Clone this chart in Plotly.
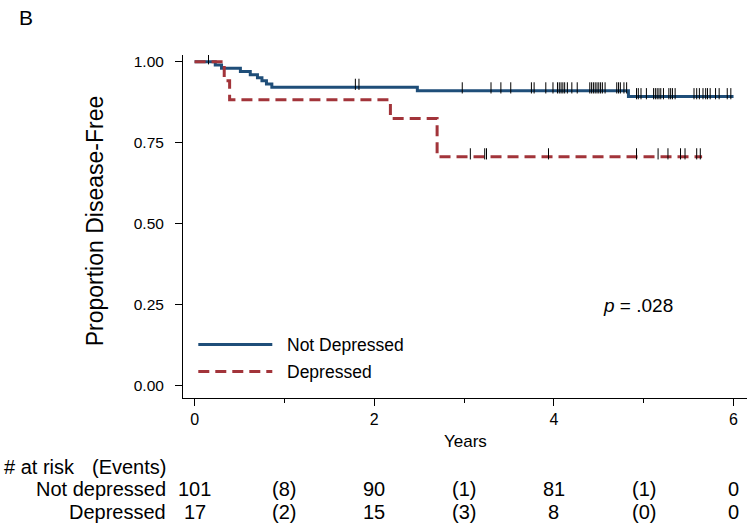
import plotly.graph_objects as go
import numpy as np

# ---------------- data ----------------
# Not depressed: step times (years) and survival after each step
nd_times = [0.0, 0.23, 0.30, 0.51, 0.62, 0.70, 0.75, 0.80, 0.86, 2.48, 4.83, 6.00]
nd_surv = [1.000, 0.990, 0.980, 0.970, 0.960, 0.950, 0.941, 0.931, 0.921, 0.910, 0.892, 0.892]
nd_censor = [0.155, 1.79, 1.83, 2.98, 3.30, 3.41, 3.52, 3.75, 3.78, 3.91, 3.99, 4.04, 4.06,
             4.08, 4.10, 4.12, 4.15, 4.20, 4.26, 4.40, 4.42, 4.44, 4.46, 4.48, 4.50, 4.52,
             4.54, 4.57, 4.70, 4.72, 4.74, 4.78, 4.81, 4.92, 4.94, 4.97, 5.03, 5.11, 5.13,
             5.15, 5.17, 5.19, 5.22, 5.28, 5.30, 5.32, 5.35, 5.56, 5.59, 5.62, 5.66, 5.69,
             5.71, 5.74, 5.80, 5.84, 5.93, 5.97]

# Depressed
d_times = [0.0, 0.33, 0.39, 2.18, 2.70, 5.65]
d_surv = [1.000, 0.941, 0.882, 0.824, 0.706, 0.706]
d_censor = [3.07, 3.23, 3.25, 3.94, 4.92, 5.16, 5.27, 5.41, 5.46, 5.59, 5.63]

# risk table
risk_years = [0, 1, 2, 3, 4, 5, 6]
risk_nd = ["101", "(8)", "90", "(1)", "81", "(1)", "0"]
risk_d = ["17", "(2)", "15", "(3)", "8", "(0)", "0"]

y_ticks = [0, 0.25, 0.5, 0.75, 1.0]
x_ticks = [0, 2, 4, 6]

BLUE = "#1f4e79"
RED = "#a2343a"
FONT = "Liberation Sans, Arial, sans-serif"


def surv_at(times, surv, t):
    idx = np.searchsorted(np.array(times), t, side="right") - 1
    return surv[max(idx, 0)]


fig = go.Figure()

fig.add_trace(go.Scatter(x=nd_times, y=nd_surv, mode="lines", line_shape="hv",
                         line=dict(color=BLUE, width=3), showlegend=False))
fig.add_trace(go.Scatter(x=d_times, y=d_surv, mode="lines", line_shape="hv",
                         line=dict(color=RED, width=3, dash="11px,6px"), showlegend=False))

tick_off = 0.009
fig.add_trace(go.Scatter(
    x=nd_censor, y=[surv_at(nd_times, nd_surv, t) + tick_off for t in nd_censor],
    mode="markers", marker=dict(symbol="line-ns", size=8, line=dict(color="black", width=1)),
    showlegend=False, hoverinfo="skip"))
fig.add_trace(go.Scatter(
    x=d_censor, y=[surv_at(d_times, d_surv, t) + tick_off for t in d_censor],
    mode="markers", marker=dict(symbol="line-ns", size=8, line=dict(color="black", width=1)),
    showlegend=False, hoverinfo="skip"))

# ---- manual legend & text (pixel -> paper helpers) ----
L, R = 182.7, 746.7
T, B = 55.0, 398.0
def px_x(p):
    return (p - L) / (R - L)
def px_y(p):
    return (B - p) / (B - T)

shapes = [
    dict(type="line", xref="paper", yref="paper", x0=px_x(198), x1=px_x(272),
         y0=px_y(344.5), y1=px_y(344.5), line=dict(color=BLUE, width=3)),
    dict(type="line", xref="paper", yref="paper", x0=px_x(198), x1=px_x(272),
         y0=px_y(371.5), y1=px_y(371.5), line=dict(color=RED, width=3, dash="11px,6px")),
]

def txt(text, x, y, size, xanchor="left", xref="paper", angle=0):
    return dict(text=text, x=x, y=y, xref=xref, yref="paper", xanchor=xanchor,
                yanchor="middle", showarrow=False, textangle=angle,
                font=dict(family=FONT, size=size, color="black"))

annotations = [
    txt("Not Depressed", px_x(285), px_y(344.5), 17.5),
    txt("Depressed", px_x(285), px_y(371.5), 17.5),
    txt("<i>p</i> = .028", px_x(601), px_y(305), 19),
    txt("B", px_x(17), px_y(18), 21),
    txt("Proportion Disease-Free", px_x(95), px_y(221), 23, xanchor="center", angle=-90),
    txt("Years", 0.5, px_y(441), 17, xanchor="center"),
    txt("# at risk", px_x(2), px_y(467), 20),
    txt("(Events)", px_x(168), px_y(467), 20, xanchor="right"),
    txt("Not depressed", px_x(168), px_y(489), 20, xanchor="right"),
    txt("Depressed", px_x(168), px_y(512), 20, xanchor="right"),
]
for yr, a, b in zip(risk_years, risk_nd, risk_d):
    annotations.append(txt(a, yr, px_y(489), 20, xanchor="center", xref="x"))
    annotations.append(txt(b, yr, px_y(512), 20, xanchor="center", xref="x"))

fig.update_layout(
    width=750, height=530,
    margin=dict(l=L, r=750 - R, t=T, b=530 - B, pad=0),
    paper_bgcolor="white", plot_bgcolor="white",
    font=dict(family=FONT, color="black"),
    shapes=shapes, annotations=annotations, showlegend=False,
)
fig.update_xaxes(range=[-0.129, 6.15], tickvals=x_ticks, ticks="outside", ticklen=7,
                 tickcolor="black", showline=True, linecolor="black", linewidth=1,
                 showgrid=False, zeroline=False, tickfont=dict(size=16, family=FONT),
                 minor=dict(tickvals=[1, 3, 5], ticks="outside", ticklen=4, tickcolor="black"))
fig.update_yaxes(range=[-0.040, 1.0207], tickvals=y_ticks, tickformat=".2f", ticks="outside",
                 ticklen=7, tickcolor="black", showline=True, linecolor="black", linewidth=1,
                 showgrid=False, zeroline=False, tickfont=dict(size=15.5, family=FONT),
                 ticklabelstandoff=8)

fig.write_html("out.html", config={"displayModeBar": False},
               post_script="document.body.style.margin='0';")
